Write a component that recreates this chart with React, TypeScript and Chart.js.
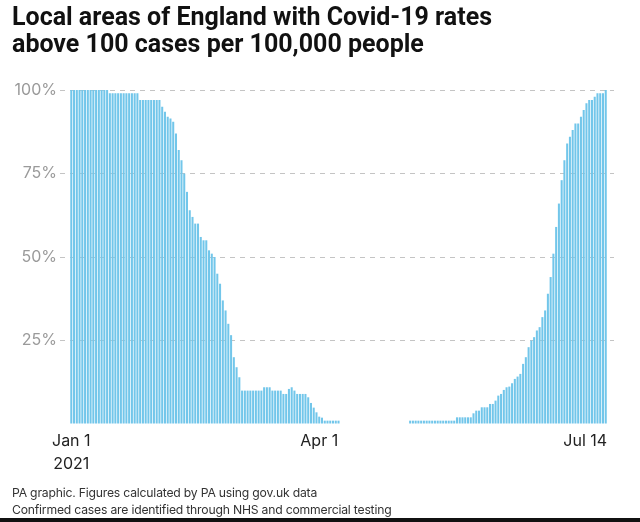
import { useEffect, useRef } from "react";
import { Chart, registerables } from "chart.js";

Chart.register(...registerables);

// Day index 0 = 1 Jan 2021, day 194 = 14 Jul 2021
const titleLines = [
  "Local areas of England with Covid-19 rates",
  "above 100 cases per 100,000 people",
];
const footerLines = [
  "PA graphic. Figures calculated by PA using gov.uk data",
  "Confirmed cases are identified through NHS and commercial testing",
];
const xTickDays = [0, 90, 194];
const xTickLabels = [["Jan 1", "2021"], ["Apr 1"], ["Jul 14"]];
const yTickValues = [0, 25, 50, 75, 100];

// Share (%) of local areas above 100 cases per 100,000, one value per day
const janToAprShare = [
  100, 100, 100, 100, 100, 100, 100, 100, 100, 100, 100, 100, 100, 100,
  99, 99, 99, 99, 99, 99, 99, 99, 99, 99, 99,
  97, 97, 97, 97, 97, 97, 97, 97,
  95, 93.5, 92, 91.5, 90.5, 87, 82, 79, 75, 69.5, 64, 62, 60, 60, 56, 55, 55,
  52, 51, 50, 45, 42, 37, 34, 30, 26.6, 20, 17, 14, 10,
  10, 10, 10, 10, 10, 10, 10,
  11, 11, 11,
  10, 10, 10, 10,
  9, 9,
  10.5, 11,
  10,
  9, 9, 9, 9,
  8, 6.3, 4.9, 3.5, 2.2, 1.9,
  1, 1, 1, 1, 1, 1,
];
const aprToMayShare = [
  0, 0, 0, 0, 0, 0, 0, 0, 0, 0, 0, 0, 0, 0, 0, 0, 0, 0, 0, 0, 0, 0, 0, 0, 0,
];
const mayToJulShare = [
  1, 1, 1, 1, 1, 1, 1, 1, 1, 1, 1, 1, 1, 1, 1, 1, 1,
  2, 2, 2, 2, 2, 2,
  3.2, 4, 4, 5, 5, 5, 6, 6, 7, 8.5, 9,
  10.2, 11, 11.2, 12.2, 13.5, 14.2, 15, 18, 20, 23,
  25, 26, 28, 29, 32, 34, 39, 44, 51, 59,
  66, 73, 79, 84, 86, 88, 90, 90, 92, 94,
  96, 97, 97, 98, 99, 99, 99, 100,
];
const dailyShare = [...janToAprShare, ...aprToMayShare, ...mayToJulShare];

const BAR_COLOR = "#72c6ea";
const FONT = '"Inter", "Roboto", "DejaVu Sans", sans-serif';
const TITLE_FONT = '"Roboto", "Inter", sans-serif';

export default function App() {
  const canvasRef = useRef<HTMLCanvasElement | null>(null);

  useEffect(() => {
    const canvas = canvasRef.current;
    if (!canvas) return;

    const xLabelPlugin = {
      id: "xLabels",
      afterDraw(chart: any) {
        const { ctx } = chart;
        const xs = chart.scales.x;
        ctx.save();
        ctx.font = `400 16px ${FONT}`;
        ctx.fillStyle = "#222222";
        ctx.textBaseline = "alphabetic";
        xTickDays.forEach((d, i) => {
          const last = i === xTickDays.length - 1;
          const px = last ? xs.getPixelForValue(d + 0.5) : xs.getPixelForValue(d);
          ctx.textAlign = last ? "right" : "center";
          xTickLabels[i].forEach((t, j) => ctx.fillText(t, px, 446 + j * 23));
        });
        ctx.restore();
      },
    };

    const chart = new Chart(canvas, {
      type: "bar",
      data: {
        datasets: [
          {
            data: dailyShare.map((v, i) => ({ x: i, y: v })),
            backgroundColor: BAR_COLOR,
            borderWidth: 0,
            barPercentage: 0.74,
            categoryPercentage: 1,
          },
        ],
      },
      options: {
        animation: false,
        responsive: false,
        maintainAspectRatio: false,
        layout: { padding: { top: 90, bottom: 98, left: 0, right: 26 } },
        plugins: { legend: { display: false }, tooltip: { enabled: false }, title: { display: false } },
        scales: {
          x: {
            type: "linear",
            min: -4.1,
            max: 197,
            offset: false,
            display: false,
          },
          y: {
            min: 0,
            max: 100,
            afterFit(scale: any) {
              scale.width = 60;
            },
            afterBuildTicks(scale: any) {
              scale.ticks = yTickValues.map((v) => ({ value: v }));
            },
            border: { display: false, dash: [5, 5] },
            grid: {
              drawTicks: false,
              color: (c: any) => (c.tick && c.tick.value === 0 ? "rgba(0,0,0,0)" : "#c4c4c4"),
              lineWidth: 1,
            },
            ticks: {
              padding: 3,
              color: "#9a9a9a",
              font: { family: FONT, size: 16, weight: "400" },
              callback: (v: any) => (Number(v) === 0 ? "" : `${v}%`),
            },
          },
        },
      },
      plugins: [xLabelPlugin],
    });

    return () => chart.destroy();
  }, []);

  return (
    <div
      style={{
        position: "absolute",
        left: 0,
        top: 0,
        width: 640,
        height: 522,
        overflow: "hidden",
        background: "#ffffff",
        fontFamily: FONT,
      }}
    >
      <canvas
        ref={canvasRef}
        width={640}
        height={522}
        style={{ position: "absolute", left: 0, top: 0, width: 640, height: 522 }}
      />
      <div
        style={{
          position: "absolute",
          left: 12,
          top: 3,
          fontFamily: TITLE_FONT,
          fontSize: 25,
          lineHeight: "27px",
          fontWeight: 700,
          letterSpacing: "0px",
          color: "#111111",
          whiteSpace: "nowrap",
        }}
      >
        {titleLines.map((t) => (
          <div key={t}>{t}</div>
        ))}
      </div>
      <div
        style={{
          position: "absolute",
          left: 12,
          top: 484,
          fontSize: 12.2,
          lineHeight: "17px",
          color: "#333333",
          letterSpacing: "-0.2px",
          whiteSpace: "nowrap",
        }}
      >
        {footerLines.map((t) => (
          <div key={t}>{t}</div>
        ))}
      </div>
      <div
        style={{ position: "absolute", left: 0, top: 518, width: 640, height: 4, background: "#111111" }}
      />
    </div>
  );
}
